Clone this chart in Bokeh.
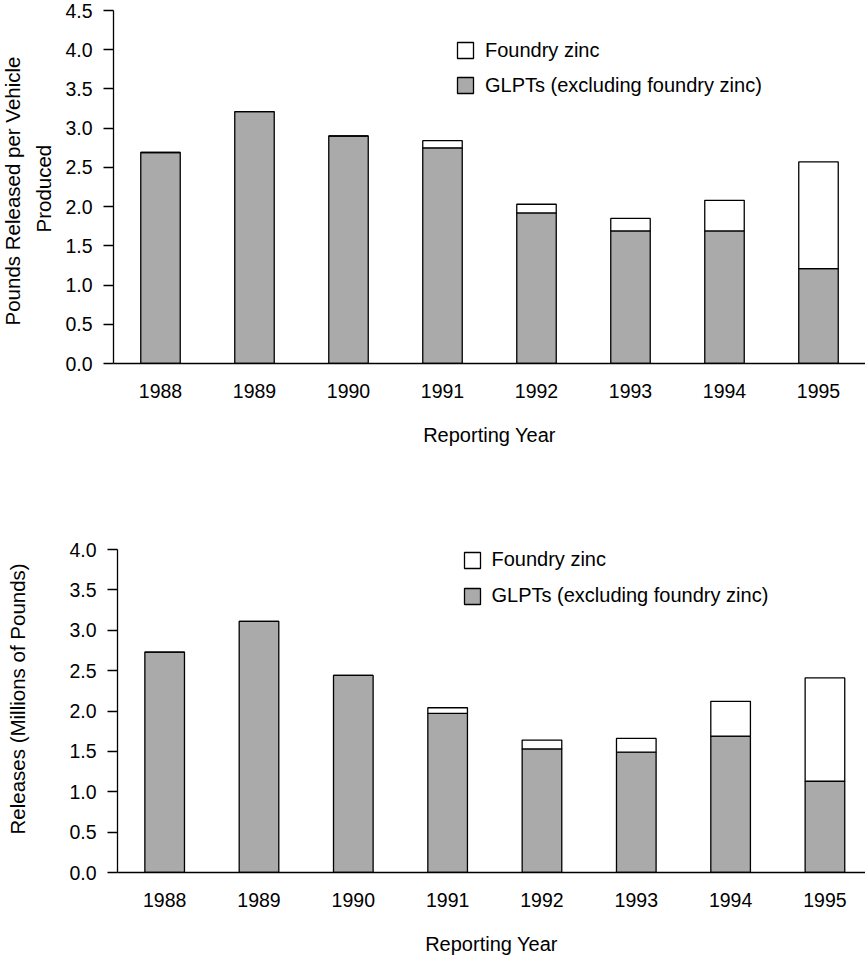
from bokeh.embed import file_html
from bokeh.models import (ColumnDataSource, FixedTicker, Legend, LegendItem,
                          PrintfTickFormatter, Range1d, Title)
from bokeh.plotting import figure
from bokeh.resources import INLINE

# Reporting years
years = [1988, 1989, 1990, 1991, 1992, 1993, 1994, 1995]

# Pounds released per vehicle produced
glpt_per_vehicle = [2.69, 3.21, 2.90, 2.75, 1.92, 1.69, 1.69, 1.21]
foundry_per_vehicle = [0.0, 0.0, 0.0, 0.09, 0.11, 0.16, 0.39, 1.36]

# Total releases, millions of pounds
glpt_releases = [2.73, 3.11, 2.44, 1.97, 1.53, 1.49, 1.69, 1.13]
foundry_releases = [0.0, 0.0, 0.0, 0.07, 0.11, 0.17, 0.43, 1.28]

per_vehicle_ticks = [0.0, 0.5, 1.0, 1.5, 2.0, 2.5, 3.0, 3.5, 4.0, 4.5]
releases_ticks = [0.0, 0.5, 1.0, 1.5, 2.0, 2.5, 3.0, 3.5, 4.0]

FONT = "Liberation Sans"
GRAY = "#aaaaaa"
INK = "#000000"


def side_title(text, offset, standoff, valign):
    return Title(text=text, align="left", offset=offset, standoff=standoff,
                 vertical_align=valign, text_font=FONT,
                 text_font_size="20.5px", text_font_style="normal",
                 text_color=INK)


def bar_panel(glpt, foundry, ticks, height, border_top, border_bottom,
              border_left, x_end, legend_loc, legend_spacing):
    src = ColumnDataSource(dict(year=years, glpt=glpt, foundry=foundry))
    p = figure(width=865, height=height, output_backend="svg",
               toolbar_location=None,
               x_range=Range1d(years[0] - 0.5, x_end),
               y_range=Range1d(ticks[0], ticks[-1]),
               min_border_left=border_left, min_border_right=0,
               min_border_top=border_top, min_border_bottom=border_bottom)
    p.outline_line_color = None
    p.grid.visible = False
    p.background_fill_color = "white"

    bars = p.vbar_stack(["glpt", "foundry"], x="year", width=0.42,
                        source=src, fill_color=[GRAY, "white"],
                        line_color=INK, line_width=1.3)

    # y axis
    ya = p.yaxis[0]
    ya.ticker = FixedTicker(ticks=ticks)
    ya.formatter = PrintfTickFormatter(format="%.1f")
    ya.axis_line_color = INK
    ya.axis_line_width = 1.3
    ya.major_tick_line_color = INK
    ya.major_tick_line_width = 1.3
    ya.major_tick_out = 10
    ya.major_tick_in = 0
    ya.minor_tick_line_color = None
    ya.major_label_standoff = 11
    ya.major_label_text_font = FONT
    ya.major_label_text_font_size = "19.5px"
    ya.major_label_text_color = INK

    # x axis
    xa = p.xaxis[0]
    xa.ticker = FixedTicker(ticks=years)
    xa.axis_line_color = INK
    xa.axis_line_width = 1.3
    xa.major_tick_line_color = None
    xa.major_tick_out = 0
    xa.major_tick_in = 0
    xa.minor_tick_line_color = None
    xa.major_label_standoff = 20
    xa.major_label_text_font = FONT
    xa.major_label_text_font_size = "19.5px"
    xa.major_label_text_color = INK
    xa.axis_label = "Reporting Year"
    xa.axis_label_text_font = FONT
    xa.axis_label_text_font_size = "20px"
    xa.axis_label_text_font_style = "normal"
    xa.axis_label_text_color = INK
    xa.axis_label_standoff = 23

    legend = Legend(items=[
        LegendItem(label="Foundry zinc", renderers=[bars[1]]),
        LegendItem(label="GLPTs (excluding foundry zinc)", renderers=[bars[0]]),
    ], location=legend_loc, orientation="vertical")
    legend.padding = 0
    legend.margin = 0
    legend.spacing = legend_spacing
    legend.glyph_width = 20
    legend.glyph_height = 20
    legend.label_height = 20
    legend.label_standoff = 10
    legend.label_text_font = FONT
    legend.label_text_font_size = "20px"
    legend.label_text_color = INK
    legend.border_line_color = None
    legend.background_fill_alpha = 0
    p.add_layout(legend, "center")
    return p


top = bar_panel(glpt_per_vehicle, foundry_per_vehicle, per_vehicle_ticks,
                height=470, border_top=10, border_bottom=107,
                border_left=113, x_end=1995.5,
                legend_loc=(342, 266.5), legend_spacing=12)
# two-line y-axis title, inner line first
top.add_layout(side_title("Produced", 131, 11, "top"), "left")
top.add_layout(side_title("Pounds Released per Vehicle", 38, 1, "top"), "left")

bottom = bar_panel(glpt_releases, foundry_releases, releases_ticks,
                   height=489, border_top=79, border_bottom=87,
                   border_left=117, x_end=1995.43,
                   legend_loc=(344.5, 265), legend_spacing=13)
bottom.add_layout(side_title(" ", 0, 10, "bottom"), "left")
bottom.add_layout(side_title("Releases (Millions of Pounds)", 38, 1, "top"),
                  "left")

# the two charts are stacked as separate roots so each keeps its own frame
open("out.html", "w").write(file_html([top, bottom], INLINE))
